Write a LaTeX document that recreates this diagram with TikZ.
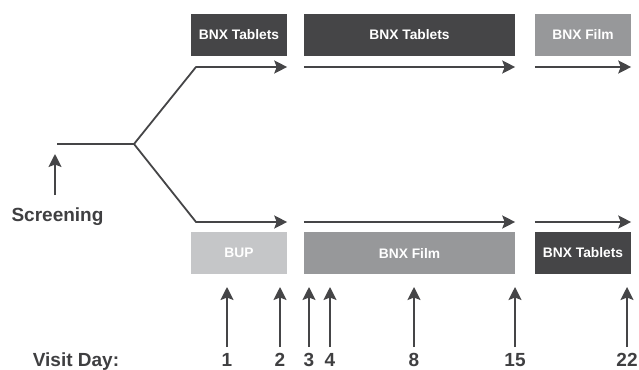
\documentclass[tikz,border=0pt]{standalone}
\usepackage{fontspec}
\setmainfont{Liberation Sans}
\usetikzlibrary{arrows.meta}
\definecolor{darkbar}{HTML}{454547}
\definecolor{midbar}{HTML}{97989A}
\definecolor{lightbar}{HTML}{C5C6C8}
\definecolor{ink}{HTML}{3F3F41}
\tikzset{
  bar/.style={minimum height=42pt, inner sep=0pt, text=white,
    font=\bfseries\fontsize{13.8}{15}\selectfont},
  arr/.style={draw=darkbar, line width=1.8pt,
    -{Stealth[length=13pt,width=13pt,inset=2.5pt]}},
  lbl/.style={text=ink, inner sep=0pt, anchor=base,
    font=\bfseries\fontsize{19}{21}\selectfont},
}

\begin{document}
\begin{tikzpicture}[x=1pt,y=-1pt]
\useasboundingbox (0,0) rectangle (639,369);

% treatment bars, upper and lower arm
\node[bar, fill=darkbar, minimum width=96pt]  (tabA) at (239,35)   {BNX Tablets};
\node[bar, fill=darkbar, minimum width=211pt] (tabB) at (409.5,35) {BNX Tablets};
\node[bar, fill=midbar,  minimum width=96pt]  (filmA) at (583,35)  {BNX Film};
\node[bar, fill=lightbar, minimum width=96pt] (bup) at (239,253)   {BUP};
\node[bar, fill=midbar,  minimum width=211pt] (filmB) at (409.5,253) {BNX Film};
\node[bar, fill=darkbar, minimum width=96pt]  (tabC) at (583,253)  {BNX Tablets};

% randomisation fork
\coordinate (s0) at (57,144);
\coordinate (fork) at (134,144);
\coordinate (u0) at (196,67);
\coordinate (l0) at (196,222);
\draw[darkbar, line width=1.6pt] (s0) -- (fork);
\draw[arr, line join=round] (fork) -- (u0) -- (tabA.south east |- u0);
\draw[arr, line join=round] (fork) -- (l0) -- (bup.north east |- l0);

\draw[arr] (tabB.south west |- u0) -- (tabB.south east |- u0);
\draw[arr] (filmA.south west |- u0) -- (filmA.south east |- u0);
\draw[arr] (filmB.north west |- l0) -- (filmB.north east |- l0);
\draw[arr] (tabC.north west |- l0) -- (tabC.north east |- l0);

% screening
\node[lbl] (scr) at (57.5,221) {Screening};
\coordinate (scr0) at (55,195);
\coordinate (scr1) at (55,154);
\draw[arr] (scr0) -- (scr1);

% visit days
\node[lbl] (visit) at (76,366) {Visit Day:};
\foreach \x/\d in {227/1, 280/2, 309/3, 330/4, 414/8, 515/15, 627/22}
{
  \node[lbl] (day\d) at (\x,366) {\d};
  \coordinate (foot\d) at (\x,347);
  \coordinate (tip\d) at (\x,287);
  \draw[arr] (foot\d) -- (tip\d);
}

\end{tikzpicture}
\end{document}
